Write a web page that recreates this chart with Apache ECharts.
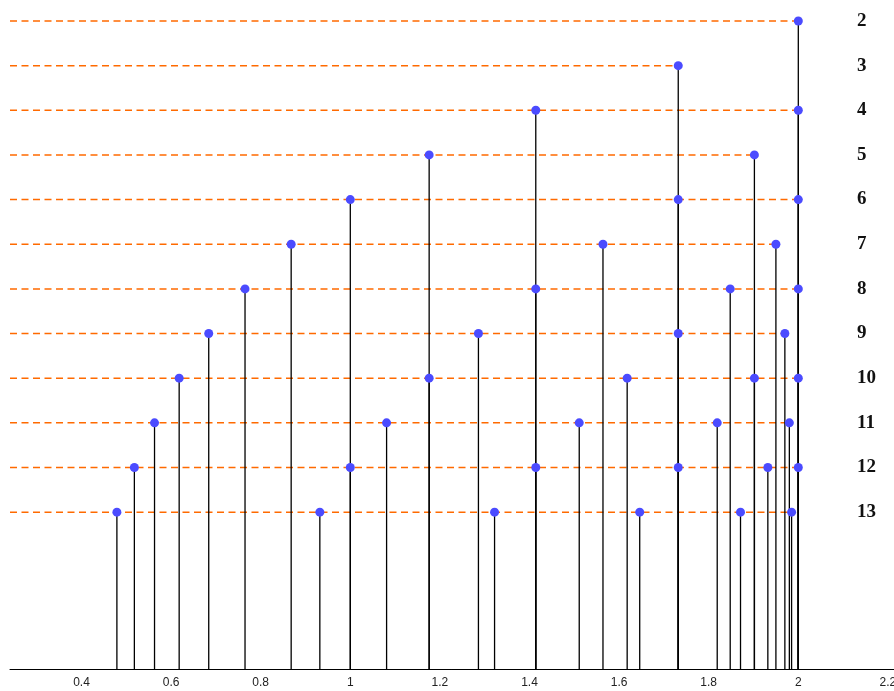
<!DOCTYPE html>
<html>
<head>
<meta charset="utf-8">
<script src="https://cdn.jsdelivr.net/npm/echarts@6/dist/echarts.min.js"></script>
<style>
  html, body { margin: 0; padding: 0; background: #fff; }
  #chart { width: 894px; height: 691px; }
</style>
</head>
<body>
<div id="chart"></div>
<script>
// Chord lengths of a unit-radius regular n-gon, one row per n
const rowN = [2, 3, 4, 5, 6, 7, 8, 9, 10, 11, 12, 13];
const chordsN2 = [2];
const chordsN3 = [1.732];
const chordsN4 = [1.414, 2];
const chordsN5 = [1.176, 1.902];
const chordsN6 = [1, 1.732, 2];
const chordsN7 = [0.868, 1.564, 1.950];
const chordsN8 = [0.765, 1.414, 1.848, 2];
const chordsN9 = [0.684, 1.286, 1.732, 1.970];
const chordsN10 = [0.618, 1.176, 1.618, 1.902, 2];
const chordsN11 = [0.563, 1.081, 1.511, 1.819, 1.980];
const chordsN12 = [0.518, 1, 1.414, 1.732, 1.932, 2];
const chordsN13 = [0.479, 0.932, 1.322, 1.646, 1.871, 1.985];
const xTicks = [0.4, 0.6, 0.8, 1, 1.2, 1.4, 1.6, 1.8, 2, 2.2];

const rows = [chordsN2, chordsN3, chordsN4, chordsN5, chordsN6, chordsN7,
              chordsN8, chordsN9, chordsN10, chordsN11, chordsN12, chordsN13];

const points = [];
const rowEnds = [];
rows.forEach((vals, i) => {
  vals.forEach(v => points.push([v, rowN[i]]));
  rowEnds.push([Math.max.apply(null, vals), rowN[i]]);
});

const chart = echarts.init(document.getElementById('chart'), null, { renderer: 'canvas' });

chart.setOption({
  animation: false,
  grid: {
    left: 10, right: 0, top: 0, bottom: 22,
    containLabel: false,
    outerBoundsMode: 'none'
  },
  xAxis: {
    type: 'value',
    min: 0.2404,
    max: 2.2136,
    axisLine: { show: true, lineStyle: { color: '#000', width: 1 } },
    axisTick: { show: false },
    splitLine: { show: false },
    axisLabel: {
      customValues: xTicks,
      color: '#222',
      fontFamily: 'Liberation Sans, Arial, sans-serif',
      fontSize: 12,
      margin: 8,
      showMinLabel: true,
      showMaxLabel: true,
      hideOverlap: false
    }
  },
  yAxis: {
    type: 'value',
    inverse: true,
    position: 'right',
    min: 1.53,
    max: 16.513,
    axisLine: { show: false },
    axisTick: { show: false },
    splitLine: { show: false },
    axisLabel: {
      customValues: rowN,
      inside: true,
      align: 'left',
      margin: 37,
      padding: [0, 0, 8, 0],
      color: '#111',
      fontFamily: 'Liberation Serif, Times New Roman, serif',
      fontWeight: 'bold',
      fontSize: 19
    }
  },
  series: [
    {
      // dashed guide for each row, from the left edge to its farthest point
      type: 'custom',
      silent: true,
      data: rowEnds,
      renderItem: function (params, api) {
        const end = api.coord([api.value(0), api.value(1)]);
        const left = params.coordSys.x;
        return {
          type: 'line',
          shape: { x1: left, y1: end[1], x2: end[0], y2: end[1] },
          style: { stroke: '#ff6a00', lineWidth: 1.5, lineDash: [7, 4.5] }
        };
      },
      z: 1
    },
    {
      // stem from each point down to the axis
      type: 'custom',
      silent: true,
      data: points,
      renderItem: function (params, api) {
        const p = api.coord([api.value(0), api.value(1)]);
        const bottom = params.coordSys.y + params.coordSys.height;
        return {
          type: 'line',
          shape: { x1: p[0], y1: p[1], x2: p[0], y2: bottom },
          style: { stroke: '#000', lineWidth: 1.3 }
        };
      },
      z: 2
    },
    {
      type: 'scatter',
      data: points,
      symbol: 'circle',
      symbolSize: 9,
      itemStyle: { color: '#4b4bff', opacity: 1 },
      z: 3
    }
  ]
});
</script>
</body>
</html>
